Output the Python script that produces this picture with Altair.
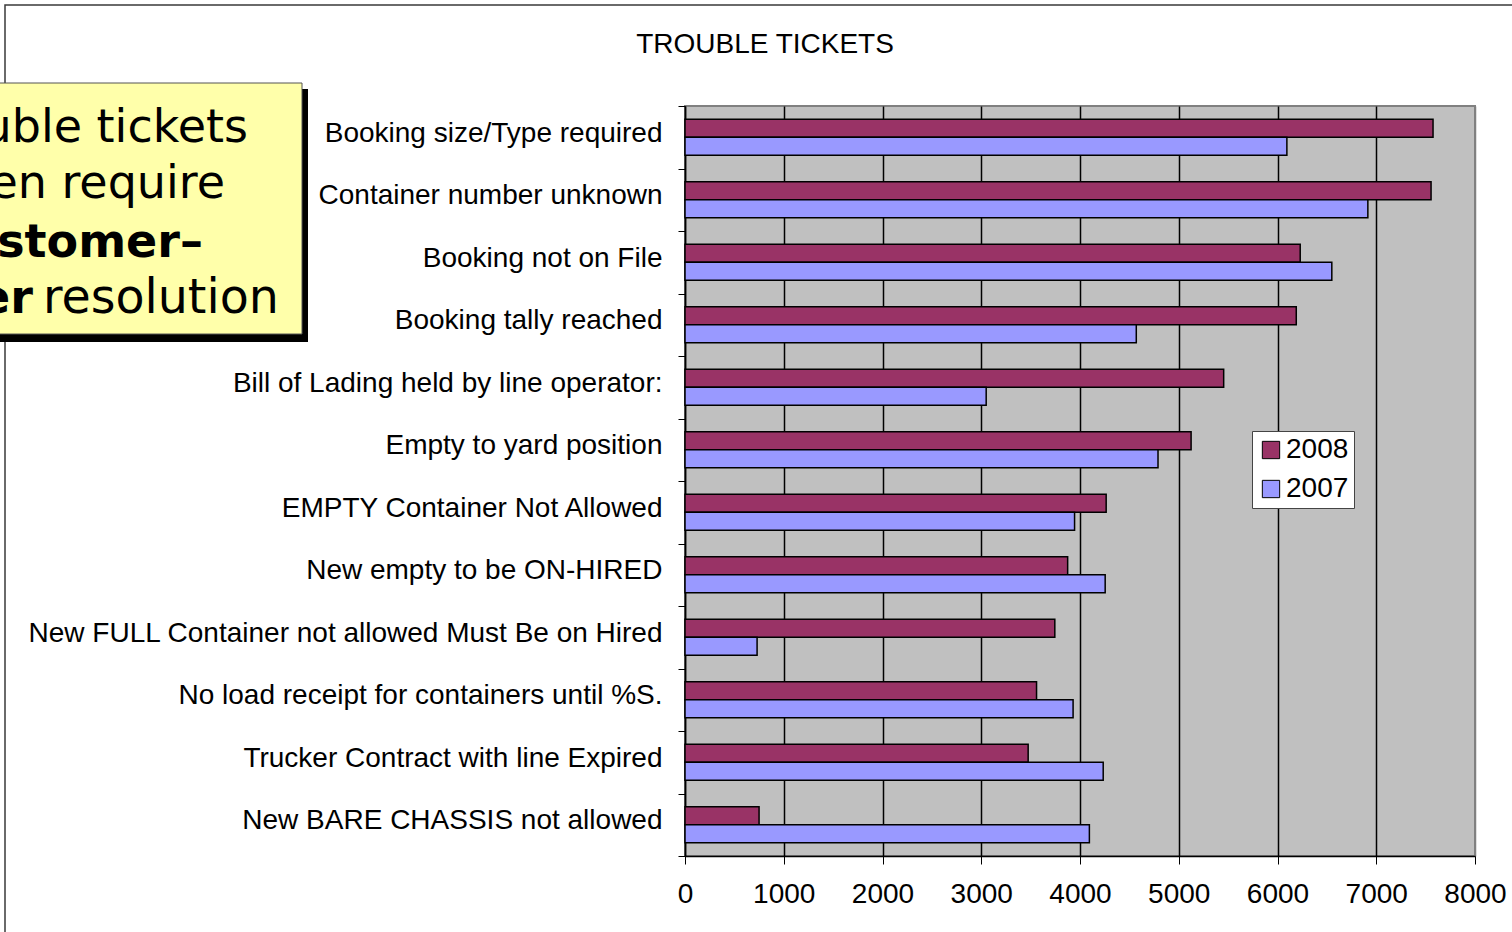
import altair as alt
import pandas as pd

# Ticket counts per problem type, top to bottom
categories = [
    "Booking size/Type required",
    "Container number unknown",
    "Booking not on File",
    "Booking tally reached",
    "Bill of Lading held by line operator:\u00a0",
    "Empty to yard position",
    "EMPTY Container Not Allowed",
    "New empty to be ON-HIRED",
    "New FULL Container not allowed Must Be on Hired",
    "No load receipt for containers until %S.",
    "Trucker Contract with line Expired",
    "New BARE CHASSIS not allowed",
]
tickets_2008 = [7575, 7555, 6230, 6190, 5455, 5125, 4265, 3875, 3745, 3560, 3475, 750]
tickets_2007 = [6095, 6915, 6550, 4570, 3050, 4790, 3945, 4255, 730, 3930, 4235, 4095]
years = ["2008", "2007"]
year_colors = ["#993366", "#9999FF"]
x_ticks = [0, 1000, 2000, 3000, 4000, 5000, 6000, 7000, 8000]

chart_title = "TROUBLE TICKETS"
callout_lines = ["Trouble tickets", "often require", "customer\u2013", "carrier", "resolution"]

rows = []
for cat, a, b in zip(categories, tickets_2008, tickets_2007):
    rows.append({"category": cat, "year": "2008", "tickets": a})
    rows.append({"category": cat, "year": "2007", "tickets": b})
df = pd.DataFrame(rows)

LABEL_FONT = "Liberation Sans"
NOTE_FONT = "DejaVu Sans"

bars = alt.Chart(df).mark_bar(stroke="black", strokeWidth=1.5).encode(
    y=alt.Y(
        "category:N",
        sort=categories,
        title=None,
        scale=alt.Scale(paddingInner=0, paddingOuter=0),
        axis=alt.Axis(
            tickBand="extent",
            tickSize=7,
            tickColor="black",
            tickWidth=1,
            domainColor="black",
            domainWidth=1.5,
            labelFont=LABEL_FONT,
            labelFontSize=28,
            labelColor="black",
            labelPadding=16,
            labelOffset=-4,
            labelLimit=800,
            grid=False,
        ),
    ),
    yOffset=alt.YOffset(
        "year:N", sort=years, scale=alt.Scale(paddingInner=0, paddingOuter=0.736)
    ),
    x=alt.X(
        "tickets:Q",
        title=None,
        scale=alt.Scale(domain=[0, 8000], nice=False),
        axis=alt.Axis(
            values=x_ticks,
            format="d",
            grid=True,
            gridColor={
                "condition": {"test": "datum.value === 8000", "value": "#808080"},
                "value": "black",
            },
            gridWidth=1.5,
            tickSize=8,
            tickColor="black",
            tickWidth=1,
            domainColor="black",
            domainWidth=1.5,
            labelFont=LABEL_FONT,
            labelFontSize=28,
            labelColor="black",
            labelPadding=16,
            labelFlush=False,
        ),
    ),
    color=alt.Color(
        "year:N",
        sort=years,
        scale=alt.Scale(domain=years, range=year_colors),
        legend=alt.Legend(
            orient="none",
            legendX=567,
            legendY=325,
            title=None,
            fillColor="white",
            strokeColor="#444444",
            padding=5,
            labelFont=LABEL_FONT,
            labelFontSize=28,
            labelColor="black",
            labelOffset=1,
            symbolType="square",
            symbolSize=300,
            symbolStrokeColor="black",
            symbolStrokeWidth=1,
            rowPadding=11,
        ),
    ),
)

one_row = pd.DataFrame({"k": [0]})

# thin frame around the whole slide area
frame = alt.Chart(one_row).mark_rect(
    fillOpacity=0, stroke="#3a3a3a", strokeWidth=1.5
).encode(
    x=alt.value(-680), x2=alt.value(900), y=alt.value(-101), y2=alt.value(900)
)

# callout box with drop shadow
shadow = alt.Chart(one_row).mark_rect(fill="black").encode(
    x=alt.value(-720), x2=alt.value(-377), y=alt.value(-17), y2=alt.value(236)
)
box = alt.Chart(one_row).mark_rect(fill="#FFFFAA", stroke="#555555", strokeWidth=1).encode(
    x=alt.value(-720), x2=alt.value(-383), y=alt.value(-23), y2=alt.value(228)
)


def text_layer(txt, x, y, align, font, size, weight="normal"):
    return alt.Chart(pd.DataFrame({"t": [txt]})).mark_text(
        align=align, baseline="alphabetic", font=font, fontSize=size,
        fontWeight=weight, color="black",
    ).encode(x=alt.value(x), y=alt.value(y), text="t:N")


notes = [
    text_layer(callout_lines[0], -437, 36, "right", NOTE_FONT, 46),
    text_layer(callout_lines[1], -460, 92, "right", NOTE_FONT, 46),
    text_layer(callout_lines[2], -482, 151, "right", NOTE_FONT, 46, "bold"),
    text_layer(callout_lines[3], -652, 207, "right", NOTE_FONT, 46, "bold"),
    text_layer(callout_lines[4], -642, 207, "left", NOTE_FONT, 47.5),
]

title = text_layer(chart_title, 80, -53, "center", LABEL_FONT, 28)

chart = alt.layer(frame, bars, shadow, box, *notes, title).properties(
    width=790,
    height=750,
    autosize="none",
    padding={"left": 685, "top": 106, "right": 37, "bottom": 76},
    background="white",
).configure_view(
    fill="#C0C0C0", stroke="#808080", strokeWidth=2
)

chart.save("out.html", embed_options={"renderer": "svg", "actions": False})
